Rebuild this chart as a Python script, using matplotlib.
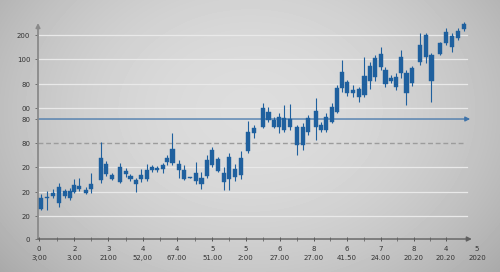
import numpy as np
import matplotlib
matplotlib.use("Agg")
import matplotlib.pyplot as plt

# candle data (x = trading-day position)
days = [0.4, 1.4, 2.4, 3.5, 4.5, 5.4, 6.2, 7.1, 8.2, 9.2,
        10.9, 11.8, 12.9, 14.2, 15.3, 16.1, 17.1, 18.0, 19.0, 19.9,
        20.8, 21.8, 22.6, 23.5, 24.6, 25.5, 26.6, 27.6, 28.6, 29.6,
        30.5, 31.5, 32.5, 33.5, 34.5, 35.5, 36.8, 37.9, 39.5, 40.4,
        41.3, 42.3, 43.2, 44.2, 45.4, 46.4, 47.4, 48.7, 49.7, 50.6,
        51.6, 52.5, 53.4, 54.3, 55.3, 56.3, 57.3, 58.2, 59.2, 60.2,
        61.0, 61.9, 62.9, 63.7, 64.7, 65.7, 67.0, 68.1, 69.1, 70.6,
        71.7, 72.7, 73.8, 74.8]
opens = [30, 41, 43, 36, 48, 41, 47, 50, 49, 50,
         59, 75, 64, 57, 65, 63, 59, 60, 60, 69,
         71, 70, 77, 76, 75, 69, 62, 58, 61, 63,
         74, 80, 66, 60, 70, 64, 88, 106, 112, 127,
         119, 112, 109, 120, 112, 94, 107, 112, 114, 109,
         117, 127, 151, 157, 149, 142, 144, 158, 162, 172,
         169, 161, 152, 166, 166, 156, 177, 182, 184, 185,
         196, 203, 201, 210]
closes = [41, 42, 46, 52, 43, 48, 54, 53, 46, 55,
          81, 65, 60, 72, 68, 60, 55, 64, 69, 72,
          69, 74, 81, 90, 69, 60, 61, 66, 55, 79,
          89, 68, 57, 82, 62, 81, 107, 111, 131, 119,
          112, 122, 121, 112, 94, 112, 121, 128, 109, 122,
          132, 151, 167, 146, 146, 150, 163, 173, 181, 185,
          155, 158, 162, 182, 146, 171, 194, 204, 158, 196,
          207, 192, 208, 215]
highs = [45, 48, 50, 56, 50, 51, 60, 61, 52, 66,
         97, 78, 66, 76, 71, 65, 61, 70, 75, 74,
         73, 76, 84, 106, 79, 74, 62, 77, 67, 84,
         92, 82, 72, 86, 75, 88, 118, 114, 136, 132,
         122, 126, 134, 135, 114, 116, 124, 141, 117, 126,
         136, 154, 179, 159, 154, 152, 182, 177, 184, 192,
         172, 164, 166, 189, 169, 173, 206, 206, 186, 197,
         211, 206, 211, 217]
lows = [29, 29, 41, 32, 41, 39, 46, 48, 45, 46,
        56, 63, 59, 56, 62, 58, 47, 57, 58, 67,
        67, 66, 74, 74, 61, 59, 61, 55, 50, 61,
        72, 67, 49, 49, 58, 60, 86, 101, 111, 117,
        111, 106, 107, 109, 84, 89, 104, 99, 107, 107,
        116, 126, 147, 143, 142, 137, 142, 150, 158, 169,
        152, 156, 149, 161, 134, 153, 174, 176, 137, 184,
        194, 187, 199, 208]

y_ticks = [0, 23, 47, 72, 96, 120, 131, 155, 180, 204]
y_labels = ['0', '20', '20', '20', '80', '80', '00', '80', '100', '200']
grid_levels = [23, 47, 72, 131, 155, 180, 204]
ref_level = 120      # solid blue line
dash_level = 96      # dashed gray line

x_ticks = [0, 6.2, 12.2, 18.3, 24.3, 30.5, 36.4, 42.4, 48.4, 54.2, 60.2, 66, 71.6, 77.1]
x_top = ['0', '2', '3', '4', '4', '5', '5', '6', '8', '6', '7', '8', '4', '5']
x_bot = ['3;00', '3.00', '2100', '52,00', '67.00', '51.00', '2:00', '27.00',
         '27.00', '41.50', '24.00', '20.20', '20.20', '2020']

candle_color = '#1f609e'

fig = plt.figure(figsize=(5, 2.72), dpi=100)

# vignette background
bg = fig.add_axes([0, 0, 1, 1], zorder=-10)
yy, xx = np.mgrid[0:272, 0:500]
r2 = ((xx - 250) / 300.0) ** 2 + ((yy - 110) / 230.0) ** 2
img = np.clip(0.865 - 0.17 * r2, 0, 1)
bg.imshow(img, cmap='gray', vmin=0, vmax=1, aspect='auto', interpolation='bilinear')
bg.axis('off')

ax = fig.add_axes([0.076, 0.1213, 0.8824, 0.8088])
ax.set_facecolor('none')
ax.set_xlim(-0.18, 77.5)
ax.set_ylim(0, 220)

x_end = 76.2
for g in grid_levels:
    ax.plot([-0.18, 75.35], [g, g], color='#e9e9e9', lw=0.9, zorder=1)

ax.plot([-0.18, 75.0], [dash_level, dash_level], color='#9c9c9c', lw=1.0,
        dashes=(3.5, 2), zorder=2)
ax.annotate('', xy=(75.9, ref_level), xytext=(-0.18, ref_level),
            arrowprops=dict(arrowstyle='-|>', color='#3e73aa', lw=0.9,
                            mutation_scale=7, shrinkA=0, shrinkB=0), zorder=2)

# candles
for x, o, h, l, c in zip(days, opens, highs, lows, closes):
    ax.vlines(x, l, h, color=candle_color, lw=0.8, zorder=3)
    lo, hi = min(o, c), max(o, c)
    ax.bar(x, max(hi - lo, 1.2), bottom=lo, width=0.72, color=candle_color,
           edgecolor=candle_color, lw=0.3, zorder=4)

# axes as arrows
for s in ax.spines.values():
    s.set_visible(False)
ax.annotate('', xy=(-0.18, 216), xytext=(-0.18, 0),
            arrowprops=dict(arrowstyle='-|>', color='#8a8a8a', lw=1.3,
                            mutation_scale=6, shrinkA=0, shrinkB=0))
ax.annotate('', xy=(x_end, 0), xytext=(-0.18, 0),
            arrowprops=dict(arrowstyle='-|>', color='#606060', lw=1.0,
                            mutation_scale=7, shrinkA=0, shrinkB=0))

ax.set_yticks(y_ticks)
ax.set_yticklabels(y_labels)
ax.tick_params(axis='y', length=2.5, width=0.7, color='#707070', pad=3,
               labelsize=5, labelcolor='#333333')

ax.set_xticks(x_ticks)
ax.set_xticklabels([f'{a}\n{b}' for a, b in zip(x_top, x_bot)], linespacing=1.45)
minor = [(a + b) / 2 for a, b in zip(x_ticks[:-2], x_ticks[1:-1])]
ax.set_xticks(minor, minor=True)
ax.tick_params(axis='x', which='major', direction='inout', length=3.5, width=0.7,
               color='#555555', pad=3.5, labelsize=5, labelcolor='#333333')
ax.tick_params(axis='x', which='minor', direction='inout', length=2.5, width=0.6,
               color='#666666')
ax.xaxis.get_major_ticks()[-1].tick1line.set_visible(False)

fig.savefig('out.png', dpi=100)
